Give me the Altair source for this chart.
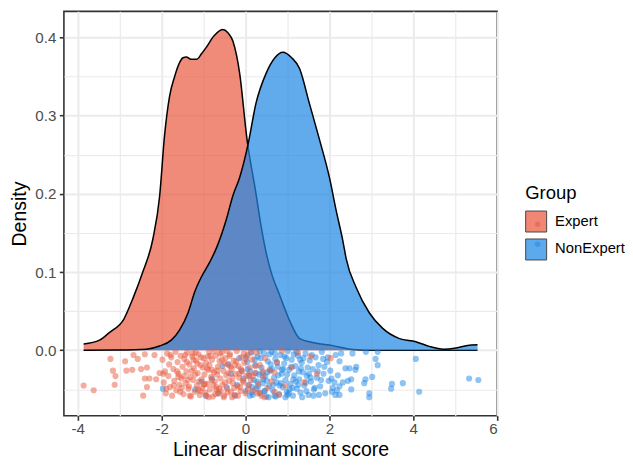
import altair as alt
import pandas as pd

# ---- density curves ----
expert_dx = [-3.86, -3.48, -3.24, -2.90, -2.68, -2.45, -2.21, -2.05, -1.93, -1.81, -1.69, -1.57,
             -1.49, -1.41, -1.30, -1.17, -1.05, -0.94, -0.75, -0.55, -0.42, -0.30, -0.14, 0.03,
             0.25, 0.37, 0.49, 0.61, 0.81, 1.05, 1.29, 1.60, 2.08, 2.55, 3.00, 4.00, 5.53]
expert_dy = [0.008, 0.013, 0.023, 0.040, 0.067, 0.100, 0.142, 0.196, 0.275, 0.325, 0.350, 0.368,
             0.374, 0.375, 0.372, 0.372, 0.379, 0.387, 0.402, 0.410, 0.406, 0.395, 0.354, 0.272,
             0.200, 0.159, 0.125, 0.100, 0.071, 0.038, 0.015, 0.010, 0.006, 0.001, 0.0, 0.0, 0.0]

nonexpert_dx = [-3.86, -3.00, -2.36, -2.05, -1.77, -1.57, -1.37, -1.21, -1.05, -0.86, -0.70, -0.46,
                -0.30, -0.14, 0.055, 0.25, 0.49, 0.70, 0.89, 1.10, 1.29, 1.52, 1.76, 2.00, 2.16,
                2.32, 2.40, 2.64, 2.95, 3.27, 3.67, 4.06, 4.38, 4.72, 5.02, 5.29, 5.53]
nonexpert_dy = [0.0, 0.0003, 0.0015, 0.0056, 0.013, 0.026, 0.048, 0.075, 0.094, 0.112, 0.130, 0.167,
                0.198, 0.221, 0.262, 0.316, 0.354, 0.374, 0.381, 0.374, 0.360, 0.316, 0.270, 0.221,
                0.179, 0.140, 0.117, 0.080, 0.048, 0.028, 0.015, 0.011, 0.005, 0.0015, 0.003, 0.006, 0.007]

expert_px = [-3.86, -3.62, -3.22, -3.16, -3.10, -3.12, -2.87, -2.84, -2.70, -2.67, -2.57, -2.49,
             -2.40, -2.35, -2.40, -2.29, -2.44, -2.17, -2.05, -2.13, -2.35,
             -1.98, -1.95, -1.92, -1.90, -1.87, -1.84, -1.82, -1.80, -1.77, -1.75, -1.72, -1.70,
             -1.67, -1.65, -1.62, -1.60, -1.58, -1.55, -1.53, -1.50, -1.48, -1.46, -1.43, -1.41,
             -1.39, -1.36, -1.34, -1.32, -1.30, -1.27, -1.25, -1.23, -1.21, -1.18, -1.16, -1.14,
             -1.12, -1.09, -1.07, -1.05, -1.03, -1.00, -0.98, -0.96, -0.94, -0.91, -0.89, -0.87,
             -0.85, -0.82, -0.80, -0.78, -0.75, -0.73, -0.71, -0.69, -0.66, -0.64, -0.62, -0.60,
             -0.57, -0.55, -0.53, -0.51, -0.48, -0.46, -0.44, -0.42, -0.39, -0.37, -0.35, -0.33,
             -0.30, -0.28, -0.26, -0.24, -0.21, -0.19, -0.17, -0.15, -0.12, -0.10, -0.08, -0.05,
             -0.03, 0.00, 0.02, 0.05, 0.07, 0.10, 0.13, 0.16, 0.19, 0.22, 0.26, 0.30, 0.34, 0.38,
             0.42, 0.47, 0.52, 0.57,
             -1.52, -1.44, -1.38, -1.28, -1.19, -1.11, -1.02, -0.93, -0.84, -0.77, -0.68, -0.59,
             -0.50, -0.41, -0.32, -0.22, -0.13, -0.04, 0.08, -0.72, -0.97, -1.24, -0.61, -0.36, -0.86,
             0.69, 0.87, 1.25, 1.40, 0.45, 0.69, 2.03, 0.75, 0.95, 1.10, 0.62, 1.55, 0.80, 1.70]
expert_py = [-0.045, -0.051, -0.011, -0.026, -0.033, -0.044, -0.014, -0.026, -0.025, -0.006, -0.011, -0.024,
             -0.005, -0.022, -0.036, -0.036, -0.058, -0.006, -0.029, -0.037, -0.047,
             -0.012, -0.041, -0.027, -0.055, -0.004, -0.033, -0.018, -0.047, -0.009, -0.058, -0.024, -0.039,
             -0.002, -0.051, -0.015, -0.030, -0.044, -0.007, -0.036, -0.021, -0.056, -0.011, -0.042, -0.027,
             -0.003, -0.049, -0.018, -0.034, -0.059, -0.008, -0.038, -0.023, -0.053, -0.013, -0.045, -0.029,
             -0.005, -0.057, -0.019, -0.037, -0.048, -0.010, -0.031, -0.054, -0.016, -0.043, -0.025, -0.002,
             -0.050, -0.034, -0.012, -0.059, -0.028, -0.040, -0.007, -0.047, -0.021, -0.055, -0.014, -0.036,
             -0.003, -0.044, -0.026, -0.058, -0.010, -0.032, -0.049, -0.018, -0.039, -0.005, -0.053, -0.024,
             -0.042, -0.013, -0.057, -0.030, -0.001, -0.046, -0.020, -0.035, -0.052, -0.009, -0.027, -0.041,
             -0.016, -0.055, -0.033, -0.006, -0.045, -0.022, -0.038, -0.012, -0.051, -0.029, -0.003, -0.043,
             -0.019, -0.058, -0.034, -0.010, -0.048, -0.025,
             -0.048, -0.006, -0.038, -0.026, -0.003, -0.040, -0.022, -0.058, -0.007, -0.044, -0.031, -0.052,
             -0.017, -0.029, -0.060, -0.014, -0.047, -0.004, -0.031, -0.056, -0.043, -0.012, -0.004, -0.021, -0.019,
             -0.028, -0.001, -0.003, -0.041, -0.060, -0.053, -0.010, -0.015, -0.045, -0.022, -0.040, -0.008, -0.057, -0.030]
expert_px2 = [-1.96, -1.89, -1.79, -1.71, -1.63, -1.56, -1.47, -1.40, -1.33, -1.26,
              -1.20, -1.13, -1.06, -0.99, -0.92, -0.88, -0.81, -0.74, -0.67, -0.63,
              -0.56, -0.49, -0.43, -0.38, -0.31, -0.25, -0.18, -0.11, -0.06, 0.01,
              0.06, 0.12, 0.18, 0.24, 0.33, 0.41,
              -1.15, -0.90, -0.70, -0.52, -1.35, -0.27, -1.60, -0.80, -0.45, -1.08, -0.15, 0.28]
expert_py2 = [-0.030, -0.049, -0.006, -0.045, -0.027, -0.053, -0.033, -0.015, -0.058, -0.004,
              -0.031, -0.050, -0.009, -0.044, -0.023, -0.060, -0.038, -0.001, -0.026, -0.049,
              -0.012, -0.041, -0.054, -0.007, -0.035, -0.019, -0.058, -0.024, -0.039, -0.011,
              -0.050, -0.002, -0.033, -0.020, -0.054, -0.027,
              -0.017, -0.008, -0.050, -0.060, -0.046, -0.048, -0.034, -0.025, -0.001, -0.052, -0.030, -0.055]

nonexpert_px = [-1.97, -1.20, -1.05, -0.95, -0.80, -0.65, -0.55, -0.45, -0.35, -0.25, -0.15,
                -0.05, 0.00, 0.04, 0.08, 0.11, 0.14, 0.17, 0.20, 0.23, 0.26, 0.29, 0.32, 0.35, 0.38,
                0.41, 0.44, 0.47, 0.50, 0.53, 0.56, 0.59, 0.62, 0.65, 0.68, 0.71, 0.74, 0.77, 0.80,
                0.83, 0.86, 0.89, 0.92, 0.95, 0.98, 1.01, 1.04, 1.07, 1.10, 1.13, 1.16, 1.19, 1.22,
                1.25, 1.28, 1.31, 1.34, 1.37, 1.40, 1.43, 1.46, 1.50, 1.53, 1.56, 1.60, 1.63, 1.67,
                1.70, 1.74, 1.78, 1.82, 1.86, 1.90, 1.94, 1.98, 2.02, 2.08, 2.15, 2.20,
                0.10, 0.30, 0.52, 0.72, 0.90, 1.05, 1.20, 1.35, 1.48, 1.62, 0.36, 0.60, 0.84, 1.15,
                1.45, 1.75, 0.25, 0.66, 0.97, 1.27, 0.45, 0.05,
                4.06, 4.14, 5.33, 5.55, 3.75, 3.49, 3.47, 2.95, 2.95, 3.02, 2.86, 2.83, 3.15, 2.87,
                3.10, 3.15, 2.55, 2.64, 2.62, 2.48, 2.38, 2.52, 2.44, 2.52, 2.32, 2.24, 2.12, 2.06,
                2.24, 2.14, 2.28, 2.24]
nonexpert_py = [-0.049, -0.050, -0.040, -0.058, -0.036, -0.055, -0.020, -0.047, -0.030, -0.058, -0.010,
                -0.036, -0.052, -0.015, -0.044, -0.027, -0.003, -0.057, -0.038, -0.019, -0.049, -0.008, -0.031, -0.055, -0.022,
                -0.042, -0.004, -0.033, -0.059, -0.014, -0.046, -0.026, -0.002, -0.051, -0.035, -0.011, -0.041, -0.021, -0.056,
                -0.006, -0.030, -0.047, -0.017, -0.038, -0.053, -0.001, -0.025, -0.043, -0.012, -0.058, -0.032, -0.020, -0.049,
                -0.007, -0.037, -0.054, -0.016, -0.028, -0.045, -0.004, -0.033, -0.057, -0.013, -0.040, -0.024, -0.050, -0.009,
                -0.035, -0.019, -0.046, -0.002, -0.030, -0.055, -0.015, -0.039, -0.026, -0.048, -0.006, -0.032,
                -0.058, -0.046, -0.028, -0.059, -0.024, -0.050, -0.040, -0.060, -0.022, -0.058, -0.010, -0.018, -0.042, -0.005,
                -0.052, -0.057, -0.029, -0.044, -0.010, -0.027, -0.052, -0.024,
                -0.011, -0.053, -0.036, -0.038, -0.042, -0.043, -0.049, -0.055, -0.060, -0.034, -0.037, -0.042, -0.002, -0.002,
                -0.011, -0.019, -0.004, -0.021, -0.025, -0.023, -0.023, -0.037, -0.039, -0.050, -0.041, -0.046, -0.041, -0.053,
                -0.057, -0.057, -0.004, -0.014]
nonexpert_px2 = [-0.40, -0.20, -0.10, 0.02, 0.09, 0.16, 0.22, 0.28, 0.34, 0.40,
                 0.46, 0.51, 0.57, 0.63, 0.69, 0.75, 0.81, 0.87, 0.93, 0.99,
                 1.03, 1.09, 1.14, 1.21, 1.26, 1.32, 1.38, 1.44, 1.51, 1.58,
                 1.65, 1.72, 1.80, 1.88, 1.96, 2.05, 2.18,
                 0.55, 0.78, 1.00, 1.30, 0.15, 0.42, 0.70, 1.12, 1.55, 1.85, 0.95]
nonexpert_py2 = [-0.018, -0.044, -0.026, -0.008, -0.033, -0.047, -0.012, -0.040, -0.001, -0.029,
                 -0.052, -0.039, -0.005, -0.024, -0.058, -0.016, -0.045, -0.025, -0.008, -0.031,
                 -0.055, -0.021, -0.037, -0.002, -0.044, -0.023, -0.010, -0.041, -0.030, -0.006,
                 -0.048, -0.027, -0.038, -0.021, -0.009, -0.036, -0.051,
                 -0.060, -0.032, -0.057, -0.012, -0.054, -0.037, -0.004, -0.048, -0.035, -0.011, -0.060]

groups = ["Expert", "NonExpert"]
colors = ["#EA5A40", "#1E88E5"]

dens = pd.concat([
    pd.DataFrame({"x": expert_dx, "y": expert_dy, "Group": "Expert"}),
    pd.DataFrame({"x": nonexpert_dx, "y": nonexpert_dy, "Group": "NonExpert"}),
])
pts = pd.concat([
    pd.DataFrame({"x": expert_px + expert_px2, "y": expert_py + expert_py2, "Group": "Expert"}),
    pd.DataFrame({"x": nonexpert_px + nonexpert_px2, "y": nonexpert_py + nonexpert_py2, "Group": "NonExpert"}),
])

FONT = "Liberation Sans"
xmajor = "datum.value % 2 == 0"
ymajor = "abs(datum.value*10 - round(datum.value*10)) < 0.001"

x_axis = alt.Axis(
    values=[-4, -3, -2, -1, 0, 1, 2, 3, 4, 5, 6],
    labelExpr=f"{xmajor} ? toString(datum.value) : ''",
    gridWidth={"condition": {"test": xmajor, "value": 2}, "value": 1.2},
    tickOpacity={"condition": {"test": xmajor, "value": 1}, "value": 0},
    title="Linear discriminant score", labelPadding=1.5, titlePadding=4,
)
y_axis = alt.Axis(
    values=[-0.05, 0.0, 0.05, 0.1, 0.15, 0.2, 0.25, 0.3, 0.35, 0.4],
    labelExpr=f"{ymajor} ? format(datum.value, '.1f') : ''",
    gridWidth={"condition": {"test": ymajor, "value": 2}, "value": 1.2},
    tickOpacity={"condition": {"test": ymajor, "value": 1}, "value": 0},
    title="Density", labelPadding=3.5, titlePadding=5,
)
xs = alt.Scale(domain=[-4.33, 6.0], nice=False, zero=False)
ys = alt.Scale(domain=[-0.0836, 0.4333], nice=False, zero=False)
cscale = alt.Scale(domain=groups, range=colors)
dot_groups = [g + " " for g in groups]

X = alt.X("x:Q", scale=xs, axis=x_axis)
Y = alt.Y("y:Q", scale=ys, axis=y_axis)

LX, LY = 462, 173
KEY = 441  # legend key area (21 x 21 px)

legend = alt.Legend(
    title="Group", orient="none", legendX=LX, legendY=LY,
    symbolType="square", symbolSize=KEY, symbolStrokeColor="black", symbolStrokeWidth=1,
    symbolOpacity=0.72,
    titleFont=FONT, titleFontSize=18.5, titleFontWeight="normal", titleColor="black",
    titlePadding=8, labelFont=FONT, labelFontSize=14.8, labelColor="black",
    labelOffset=8, rowPadding=2, padding=0,
)
# small dot drawn inside a key of the same size as the square keys
dot_path = "M0.27,0A0.27,0.27,0,1,1,-0.27,0A0.27,0.27,0,1,1,0.27,0Z"
dot_legend = alt.Legend(
    title=None, orient="none", legendX=LX + 1.5, legendY=LY + 18.5 + 8 + 2.8,
    symbolType=dot_path, symbolSize=KEY, symbolOpacity=0.5,
    symbolStrokeWidth=1, symbolStrokeColor="transparent",
    labelExpr="''", labelFontSize=14.8, labelOffset=8, rowPadding=2, padding=0,
)


def dens_layers(g, with_legend):
    base = alt.Chart(dens).transform_filter(alt.datum.Group == g)
    area = base.mark_area(fillOpacity=0.7, interpolate="monotone").encode(
        x=X, y=Y,
        color=alt.Color("Group:N", scale=cscale, legend=legend if with_legend else None),
    )
    line = base.mark_line(color="black", strokeWidth=1.5, interpolate="monotone").encode(x=X, y=Y)
    return [area, line]


def pt_layer(g, with_legend):
    return alt.Chart(pts).transform_filter(alt.datum.Group == g).transform_calculate(
        dot="datum.Group + ' '").mark_circle(size=38, opacity=0.5).encode(
        x=X, y=Y,
        fill=alt.Fill("dot:N", scale=alt.Scale(domain=dot_groups, range=colors),
                      legend=dot_legend if with_legend else None))


chart = alt.layer(
    *dens_layers("Expert", True), *dens_layers("NonExpert", False),
    pt_layer("NonExpert", True), pt_layer("Expert", False),
).properties(
    width=434, height=405,
    padding={"left": 1, "top": 3, "right": 0, "bottom": 0},
).configure_view(
    stroke="#333333", strokeWidth=1.6,
).configure_axis(
    domain=False, gridColor="#EBEBEB",
    tickColor="#333333", tickSize=4.6, tickWidth=1.6,
    labelFont=FONT, labelFontSize=15.2, labelColor="#4D4D4D",
    titleFont=FONT, titleFontSize=19.5, titleFontWeight="normal", titleColor="black",
)

chart.save("out.html", embed_options={"renderer": "svg", "actions": False})
